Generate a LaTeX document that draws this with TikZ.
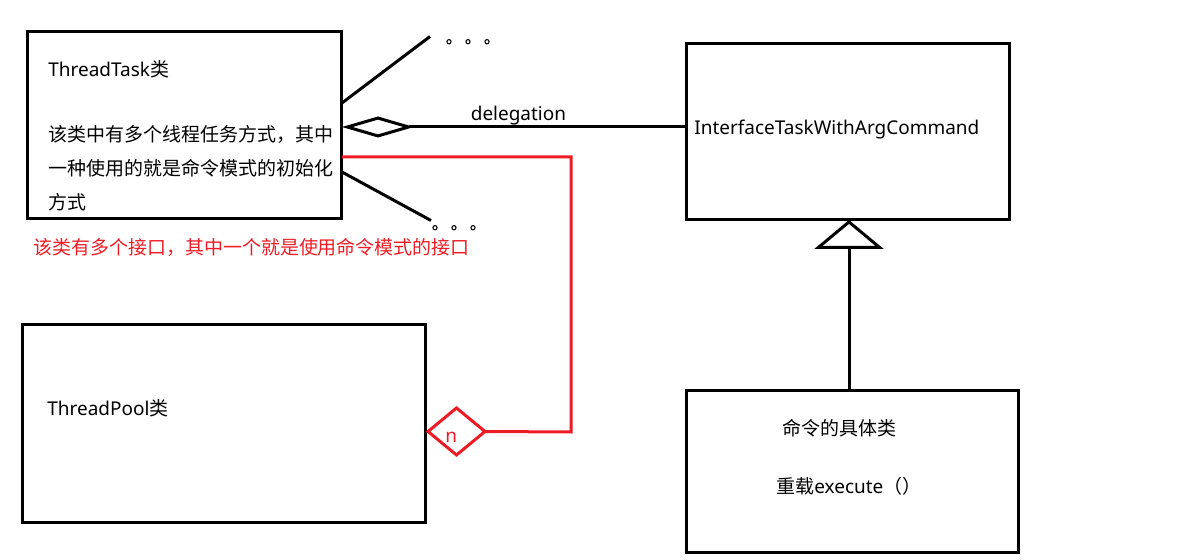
\documentclass[tikz,border=0pt]{standalone}
\usepackage{fontspec}
\setmainfont{Noto Sans}
\newfontfamily\cjk{Noto Sans CJK SC}
\usetikzlibrary{arrows.meta,shapes.geometric,calc}
\definecolor{paintred}{RGB}{237,28,36}

\begin{document}
\begin{tikzpicture}[x=0.02cm, y=-0.02cm,
		classbox/.style={draw, line width=0.06cm, inner sep=0, outer sep=0},
		wire/.style={line width=0.06cm},
		txt/.style={anchor=base west, inner sep=0, font=\fontsize{10.8pt}{13pt}\selectfont}]
		%%%%% START %%%%%
		\useasboundingbox (0, 0) rectangle (1198, 560);
		
		% classes
		\node[classbox, minimum width=6.3cm, minimum height=3.76cm] (task) at (184.5, 125) {};
		\node[classbox, minimum width=6.48cm, minimum height=3.54cm] (iface) at (848, 131.5) {};
		\node[classbox, minimum width=8.08cm, minimum height=3.98cm] (pool) at (224, 423.5) {};
		\node[classbox, minimum width=6.66cm, minimum height=3.26cm] (concrete) at (852.5, 471.5) {};
		
		\node[txt] (tasktitle) at (48, 77) {ThreadTask{\cjk 类}};
		\node[txt] (taskline1) at (48, 142) {\cjk 该类中有多个线程任务方式，其中};
		\node[txt] (taskline2) at (48, 176) {\cjk 一种使用的就是命令模式的初始化};
		\node[txt] (taskline3) at (48, 210) {\cjk 方式};
		\node[txt] (ifacename) at (694, 135) {InterfaceTaskWithArgCommand};
		\node[txt] (pooltitle) at (47, 416) {ThreadPool{\cjk 类}};
		\node[txt] (concretetitle) at (782, 436) {\cjk 命令的具体类};
		\node[txt] (concretemethod) at (776, 494) {{\cjk 重载}execute{\cjk （）}};
		\node[txt, text=paintred] (note) at (33, 255) {\cjk 该类有多个接口，其中一个就是使用命令模式的接口};
		
		% other delegations
		\coordinate (moreup) at (430, 36.5);
		\coordinate (moredown) at (431, 220.5);
		\draw[wire] (task.east |- 0, 103) -- (moreup);
		\draw[wire] (task.east |- 0, 172) -- (moredown);
		\foreach \x in {449, 468, 487} \draw[line width=0.6pt] (\x, 41.7) circle (0.042cm);
		\foreach \x in {435, 454, 473} \draw[line width=0.6pt] (\x, 227.7) circle (0.042cm);
		
		% delegation
		\draw[wire, {Diamond[open, length=1.44cm, width=0.42cm]}-] (task.east |- 0, 127) -- (iface.west |- 0, 127);
		\node[txt] (delegtext) at (470.5, 120.7) {delegation};
		
		% realisation
		\draw[wire, -{Triangle[open, length=0.58cm, width=1.38cm]}] (concrete.north -| 849, 0) -- (iface.south -| 849, 0);
		
		% pool holds tasks
		\node[diamond, draw=paintred, wire, minimum width=1.14cm, minimum height=0.94cm, inner sep=0, outer sep=0] (mult) at (456.5, 431.5) {};
		\node[txt, text=paintred] (multn) at (445, 443) {n};
		\draw[wire, paintred] (task.east |- 0, 157) -- (571, 157) -- (571, 432) -- (mult.east);
		
		%%%%% END %%%%%
	\end{tikzpicture}
\end{document}
